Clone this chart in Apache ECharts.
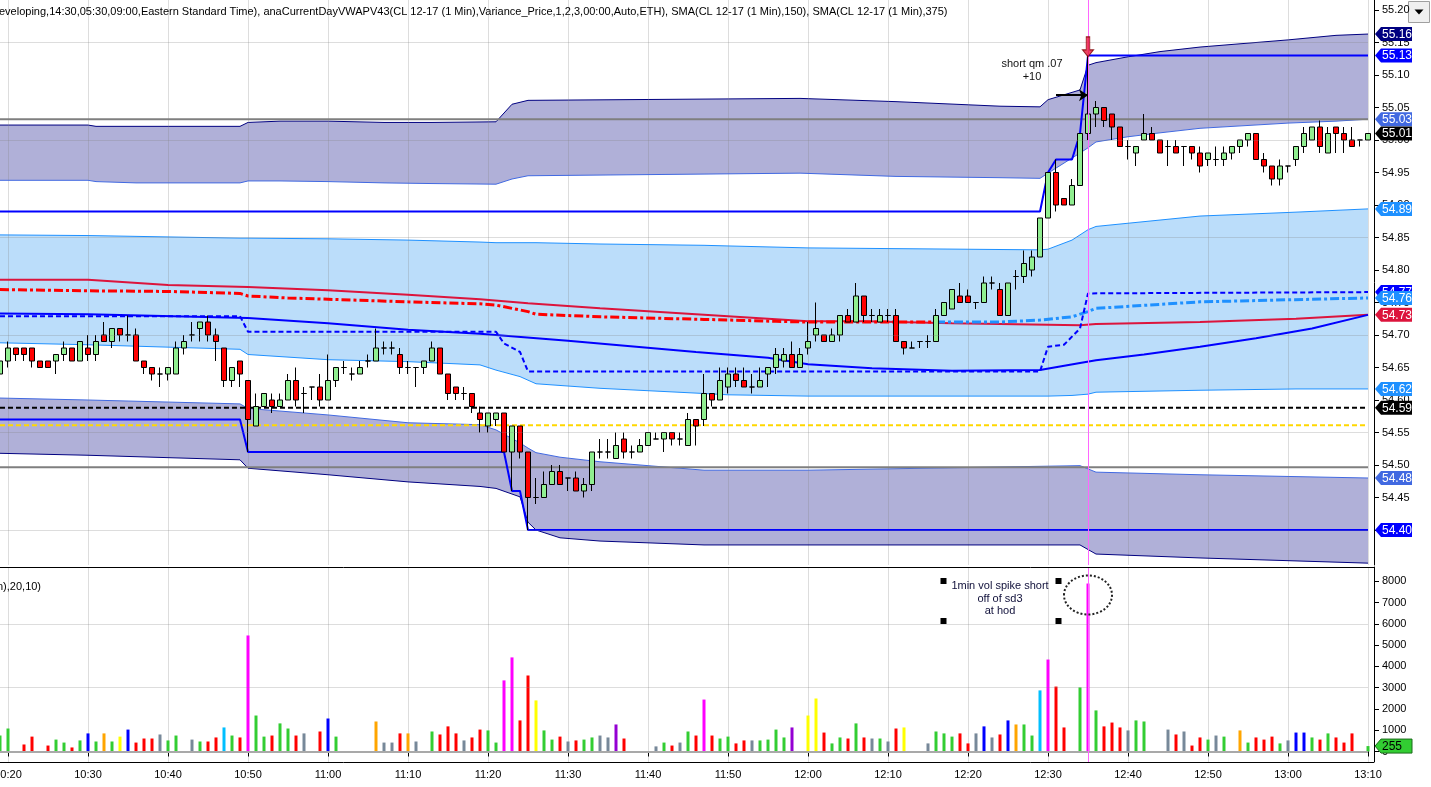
<!DOCTYPE html>
<html><head><meta charset="utf-8">
<script src="https://cdn.jsdelivr.net/npm/echarts@6/dist/echarts.min.js"></script>
<style>html,body{margin:0;padding:0;background:#fff;overflow:hidden}#c{width:1431px;height:787px}</style>
</head><body><div id="c"></div>
<script>
// ---------------- DATA ----------------
const startMinute = 10 * 60 + 19, barCount = 172;
const times = [];
for (let i = 0; i < barCount; i++) { const m = startMinute + i; times.push(Math.floor(m / 60) + ':' + String(m % 60).padStart(2, '0')); }

// [open, close, low, high]
const candles = [
[54.64,54.66,54.62,54.66],[54.66,54.68,54.65,54.69],[54.68,54.67,54.66,54.68],[54.68,54.67,54.66,54.68],[54.68,54.66,54.65,54.68],
[54.66,54.65,54.65,54.66],[54.66,54.65,54.65,54.66],[54.66,54.67,54.64,54.67],[54.67,54.68,54.66,54.69],[54.68,54.66,54.66,54.68],
[54.66,54.69,54.66,54.69],[54.68,54.67,54.66,54.70],[54.67,54.69,54.66,54.70],[54.70,54.69,54.69,54.72],[54.69,54.71,54.68,54.71],
[54.71,54.70,54.69,54.71],[54.70,54.70,54.69,54.73],[54.70,54.66,54.66,54.71],[54.66,54.65,54.64,54.66],[54.65,54.64,54.63,54.65],
[54.64,54.64,54.62,54.65],[54.64,54.65,54.63,54.65],[54.64,54.68,54.64,54.69],[54.68,54.69,54.67,54.70],[54.70,54.70,54.69,54.72],
[54.71,54.72,54.69,54.72],[54.72,54.70,54.69,54.73],[54.70,54.69,54.66,54.71],[54.68,54.63,54.62,54.68],[54.63,54.65,54.62,54.65],
[54.66,54.64,54.62,54.66],[54.63,54.57,54.52,54.63],[54.56,54.59,54.56,54.61],[54.59,54.61,54.59,54.61],[54.60,54.59,54.58,54.61],
[54.59,54.60,54.59,54.61],[54.60,54.63,54.60,54.64],[54.63,54.60,54.59,54.65],[54.61,54.61,54.58,54.62],[54.62,54.62,54.60,54.62],
[54.62,54.60,54.59,54.64],[54.60,54.63,54.60,54.67],[54.63,54.65,54.62,54.65],[54.65,54.65,54.64,54.66],[54.64,54.64,54.63,54.65],
[54.64,54.65,54.64,54.66],[54.66,54.66,54.65,54.67],[54.66,54.68,54.66,54.71],[54.68,54.68,54.67,54.69],[54.68,54.68,54.67,54.69],
[54.67,54.65,54.64,54.68],[54.65,54.65,54.64,54.66],[54.65,54.65,54.62,54.65],[54.65,54.66,54.64,54.66],[54.66,54.68,54.66,54.69],
[54.68,54.64,54.64,54.68],[54.64,54.61,54.60,54.64],[54.62,54.61,54.60,54.62],[54.61,54.61,54.60,54.62],[54.61,54.59,54.58,54.61],
[54.58,54.57,54.55,54.59],[54.56,54.58,54.55,54.58],[54.57,54.58,54.56,54.58],[54.58,54.52,54.52,54.58],[54.52,54.56,54.46,54.56],
[54.56,54.52,54.51,54.56],[54.52,54.45,54.40,54.52],[54.45,54.45,54.44,54.48],[54.45,54.47,54.45,54.49],[54.47,54.49,54.47,54.50],
[54.49,54.47,54.47,54.50],[54.48,54.48,54.46,54.48],[54.48,54.46,54.46,54.49],[54.46,54.47,54.45,54.48],[54.47,54.52,54.46,54.52],
[54.52,54.52,54.51,54.54],[54.52,54.52,54.51,54.54],[54.51,54.53,54.51,54.55],[54.54,54.52,54.51,54.55],[54.52,54.52,54.51,54.53],
[54.52,54.53,54.52,54.54],[54.53,54.55,54.53,54.55],[54.54,54.54,54.54,54.55],[54.54,54.55,54.52,54.55],[54.55,54.54,54.53,54.55],
[54.54,54.54,54.53,54.55],[54.53,54.57,54.53,54.58],[54.57,54.56,54.53,54.57],[54.57,54.61,54.56,54.64],[54.61,54.60,54.59,54.61],
[54.60,54.63,54.60,54.65],[54.62,54.64,54.61,54.65],[54.64,54.63,54.62,54.65],[54.63,54.62,54.62,54.65],[54.62,54.62,54.61,54.64],
[54.62,54.63,54.62,54.65],[54.64,54.65,54.62,54.65],[54.65,54.67,54.64,54.68],[54.66,54.67,54.65,54.68],[54.67,54.65,54.65,54.69],
[54.65,54.67,54.65,54.68],[54.68,54.69,54.67,54.72],[54.70,54.71,54.69,54.75],[54.70,54.69,54.69,54.70],[54.69,54.70,54.69,54.71],
[54.70,54.73,54.69,54.73],[54.73,54.72,54.72,54.74],[54.72,54.76,54.72,54.78],[54.76,54.73,54.72,54.76],[54.73,54.73,54.72,54.74],
[54.72,54.73,54.72,54.74],[54.73,54.73,54.72,54.74],[54.73,54.69,54.69,54.74],[54.69,54.68,54.67,54.69],[54.68,54.68,54.68,54.69],
[54.69,54.69,54.68,54.69],[54.69,54.69,54.68,54.70],[54.69,54.73,54.69,54.74],[54.73,54.75,54.73,54.75],[54.74,54.77,54.74,54.77],
[54.76,54.75,54.75,54.78],[54.76,54.75,54.75,54.77],[54.75,54.75,54.74,54.75],[54.75,54.78,54.75,54.79],[54.78,54.78,54.77,54.79],
[54.77,54.73,54.73,54.78],[54.73,54.78,54.73,54.78],[54.79,54.79,54.77,54.80],[54.79,54.81,54.78,54.83],[54.80,54.82,54.79,54.83],
[54.82,54.88,54.82,54.88],[54.88,54.95,54.88,54.95],[54.95,54.90,54.89,54.97],[54.91,54.90,54.90,54.91],[54.90,54.93,54.90,54.94],
[54.93,55.01,54.93,55.01],[55.01,55.04,55.00,55.13],[55.04,55.05,55.02,55.06],[55.05,55.03,55.02,55.05],[55.04,55.02,55.00,55.04],
[55.02,54.99,54.99,55.02],[54.99,54.99,54.97,55.00],[54.98,54.99,54.96,54.99],[55.00,55.01,55.00,55.04],[55.01,55.00,55.00,55.02],
[55.00,54.98,54.98,55.00],[54.99,54.99,54.96,55.00],[54.99,54.98,54.98,55.00],[54.99,54.99,54.96,54.99],[54.99,54.98,54.97,54.99],
[54.98,54.96,54.95,54.99],[54.97,54.98,54.96,54.98],[54.97,54.97,54.96,54.99],[54.97,54.98,54.96,54.99],[54.98,54.99,54.97,54.99],
[54.99,55.00,54.98,55.00],[55.00,55.01,54.99,55.01],[55.01,54.97,54.97,55.01],[54.97,54.96,54.95,54.98],[54.96,54.94,54.93,54.96],
[54.94,54.96,54.93,54.97],[54.96,54.96,54.95,54.96],[54.97,54.99,54.96,54.99],[54.99,55.01,54.98,55.02],[55.00,55.02,55.00,55.02],
[55.02,54.99,54.98,55.03],[54.98,55.01,54.98,55.02],[55.02,55.01,54.98,55.02],[55.01,55.00,54.98,55.02],[55.00,54.99,54.99,55.02],
[55.00,55.00,54.99,55.00],[55.00,55.01,55.00,55.01]
];

const volumes = [
750,1080,null,330,700,null,280,560,420,190,
520,850,470,850,470,700,1030,420,610,610,
800,520,750,null,560,470,470,660,1130,750,
660,5450,1690,700,750,1320,1080,750,850,null,
940,1550,700,null,null,null,null,1410,420,420,
850,850,470,null,940,800,1180,850,520,660,
1030,990,420,3340,4420,1460,3570,2400,990,560,
700,470,520,560,660,750,660,1270,610,null,
null,null,240,420,280,420,940,750,2440,750,
610,700,380,520,520,520,560,1030,660,1130,
null,1690,2490,890,380,660,610,1320,660,610,
610,470,1080,1130,null,null,380,940,850,700,
850,380,850,1180,660,800,1460,1270,1270,750,
2870,4320,3050,1130,null,3010,7890,1930,1180,1360,
1130,990,1460,1410,null,null,1030,800,940,280,
660,560,750,700,null,990,420,660,560,700,
380,520,890,890,660,560,850,660,420,850,
null,255];
// volume class per bar: g up, r down, a neutral, b/o/y/c/m/p volume-class codes
const volumeKinds = ('gg-rr-rggr'+'gbgogybrrr'+'agg-agrrcg'+'rmggrggra-'+'rbg----oaa'+
  'roa-grrrar'+'rggmmrrygg'+'rarggaapr-'+'--agragrmr'+'ggrraggggp'+
  '-yyrggrgra'+'gary--aggg'+'rrabarbogg'+'cmrr-gmgrr'+'ragg--arar'+
  'rgag-ogrrr'+'gabbgrgrrr'+'-g').split('');

// bands: [time, top, bottom]
const upperBand = [
['10:19',55.023,54.938],['10:30',55.023,54.938],['10:31',55.021,54.936],['10:36',55.021,54.934],['10:49',55.021,54.934],
['10:50',55.027,54.937],['10:54',55.029,54.937],['11:00',55.029,54.936],['11:07',55.027,54.934],['11:13',55.027,54.933],
['11:21',55.028,54.932],['11:23',55.055,54.940],['11:25',55.061,54.945],['11:59',55.064,54.949],['12:11',55.059,54.944],
['12:24',55.052,54.942],['12:29',55.051,54.941],['12:30',55.062,54.949],['12:34',55.077,54.980],['12:35',55.115,54.988],
['12:36',55.119,54.997],['12:40',55.128,55.005],['12:44',55.136,55.011],['12:49',55.143,55.018],['13:00',55.154,55.026],
['13:06',55.161,55.029],['13:10',55.163,55.032]];
const middleBand = [
['10:19',54.854,54.688],['10:30',54.853,54.685],['10:49',54.849,54.678],['10:50',54.849,54.670],['11:00',54.848,54.662],
['11:10',54.846,54.659],['11:19',54.843,54.654],['11:21',54.842,54.646],['11:24',54.842,54.636],['11:26',54.842,54.625],
['11:34',54.840,54.618],['11:47',54.838,54.610],['11:50',54.837,54.608],['12:00',54.834,54.606],['12:29',54.831,54.606],
['12:30',54.832,54.606],['12:33',54.846,54.607],['12:35',54.862,54.609],['12:36',54.867,54.612],['12:49',54.883,54.615],
['13:01',54.889,54.617],['13:10',54.894,54.617]];
const lowerBand = [
['10:19',54.603,54.518],['10:30',54.600,54.515],['10:49',54.594,54.508],['10:50',54.587,54.495],['11:00',54.577,54.485],
['11:10',54.565,54.474],['11:19',54.562,54.467],['11:21',54.554,54.464],['11:24',54.534,54.451],['11:25',54.526,54.412],
['11:26',54.519,54.400],['11:29',54.512,54.388],['11:34',54.505,54.383],['11:47',54.492,54.377],['12:00',54.492,54.377],
['12:34',54.499,54.377],['12:36',54.489,54.363],['12:49',54.485,54.357],['13:10',54.480,54.349]];

const vwapLine = [['10:19',54.733],['10:30',54.732],['10:50',54.726],['11:00',54.718],['11:10',54.708],['11:19',54.702],
['11:30',54.691],['11:46',54.674],['11:55',54.665],['12:00',54.655],['12:08',54.649],['12:18',54.645],['12:29',54.646],
['12:34',54.657],['12:36',54.661],['12:42',54.670],['12:49',54.682],['12:56',54.695],['13:03',54.710],['13:10',54.731]];
const vwapStepLine = [['10:19',54.729],['10:49',54.729],['10:50',54.705],['11:21',54.705],['11:22',54.687],['11:24',54.674],
['11:25',54.644],['12:29',54.644],['12:30',54.682],['12:32',54.685],['12:34',54.710],['12:35',54.764],['13:10',54.766]];
const sma150 = [['10:19',54.785],['10:30',54.785],['10:40',54.777],['10:50',54.774],['11:00',54.769],['11:10',54.762],
['11:19',54.755],['11:25',54.749],['11:34',54.741],['11:47',54.731],['12:00',54.721],['12:07',54.721],['12:18',54.718],
['12:34',54.715],['12:36',54.717],['12:49',54.720],['13:01',54.725],['13:10',54.731]];
const sma375Falling = [['10:19',54.770],['10:30',54.768],['10:40',54.767],['10:49',54.764],['10:50',54.760],['10:55',54.757],
['11:10',54.751],['11:19',54.748],['11:21',54.746],['11:25',54.736],['11:26',54.732],['11:34',54.728],['11:47',54.724],
['11:56',54.721],['12:00',54.720],['12:16',54.720]];
const sma375Rising = [['12:16',54.720],['12:24',54.720],['12:29',54.723],['12:33',54.728],['12:35',54.736],['12:36',54.741],
['12:49',54.751],['13:10',54.757]];

const priorHigh = 54.89, priorLow = 54.57;
const blackLevel = 54.588, yellowLevel = 54.561;
const grayLevels = [55.032, 54.4965];
const priceGridValues = [54.40, 54.55, 54.70, 54.85, 55.00, 55.15];
const priceTickLabels = [54.40,54.45,54.50,54.55,54.60,54.65,54.70,54.75,54.80,54.85,54.90,54.95,55.00,55.05,55.10,55.15,55.20];
const volumeTickLabels = [0,1000,2000,3000,4000,5000,6000,7000,8000];
const volumeGridValues = [3000, 6000];
const spikeTime = '12:35';
const shortNote = {time: '12:28', price: 55.107, text: 'short qm .07\n+10'};
const entryArrow = {from: '12:31', to: '12:35', price: 55.069};
const highMarker = {time: '12:35', price: 55.128};
const volNote = {time: '12:24', volume: 7069, text: '1min vol spike short\noff of sd3\nat hod'};
const volCircle = {time: '12:35', volume: 7350};
const titleText = 'eveloping,14:30,05:30,09:00,Eastern Standard Time), anaCurrentDayVWAPV43(CL 12-17 (1 Min),Variance_Price,1,2,3,00:00,Auto,ETH), SMA(CL 12-17 (1 Min),150), SMA(CL 12-17 (1 Min),375)';
const volTitleText = 'n),20,10)';

// ---------------- BUILD ----------------
const ix = t => times.indexOf(t);
const last = a => a[a.length - 1];
const lastIdx = barCount - 1;
const FONT = '"Liberation Sans", Arial, sans-serif';
const FS = 11;
const runHigh = [], runLow = [];
(function () { let hi = priorHigh, lo = priorLow; candles.forEach((c, i) => { hi = Math.max(hi, c[3]); lo = Math.min(lo, c[2]); runHigh.push([i, hi]); runLow.push([i, lo]); }); })();

const palette = {g:'#32CD32', r:'#FF0000', a:'#778899', b:'#0000FF', o:'#FFA500', y:'#FFFF00', c:'#00BFFF', m:'#FF00FF', p:'#9400D3'};
const isLabelTime = (i, v) => String(v).endsWith('0');

const P = {xAxisIndex: 0, yAxisIndex: 0};
const V = {xAxisIndex: 1, yAxisIndex: 1};
const common = {symbol: 'none', silent: true, animation: false, emphasis: {disabled: true}};
function lineS(data, style, z, extra) {
  return Object.assign({type: 'line', data: data.map(d => [typeof d[0] === 'string' ? ix(d[0]) : d[0], d[1]]), lineStyle: style, z: z}, P, common, extra || {});
}
function band(b, name, fill, topColor, botColor) {
  return [
    Object.assign({type: 'line', stack: name, data: b.map(r => [ix(r[0]), r[2]]), lineStyle: {color: botColor, width: 1}, z: 1}, P, common),
    Object.assign({type: 'line', stack: name, data: b.map(r => [ix(r[0]), +(r[1] - r[2]).toFixed(4)]), areaStyle: {color: fill, opacity: 1}, lineStyle: {color: topColor, width: 1}, z: 0}, P, common)
  ];
}

const priceTags = [
  {v: last(upperBand)[1], bg: '#000080', fg: '#fff'},
  {v: last(runHigh)[1], bg: '#0000FF', fg: '#fff'},
  {v: last(upperBand)[2], bg: '#4169E1', fg: '#fff'},
  {v: last(candles)[1], bg: '#000000', fg: '#fff'},
  {v: last(middleBand)[1], bg: '#1E90FF', fg: '#fff'},
  {v: last(vwapStepLine)[1], bg: '#0000FF', fg: '#fff'},
  {v: last(sma375Rising)[1], bg: '#1E90FF', fg: '#fff'},
  {v: last(sma150)[1], bg: '#DC143C', fg: '#fff'},
  {v: last(middleBand)[2], bg: '#1E90FF', fg: '#fff'},
  {v: blackLevel, bg: '#000000', fg: '#fff'},
  {v: last(lowerBand)[1], bg: '#4169E1', fg: '#fff'},
  {v: last(runLow)[1], bg: '#0000FF', fg: '#fff'}
];
const volTags = [{v: last(volumes), bg: '#32CD32', fg: '#000', stroke: '#1a6b1a', dec: 0}];

function tagRenderer(list) {
  return function (params, api) {
    const t = list[params.dataIndex];
    const p = api.coord([api.value(0), api.value(1)]);
    const x = p[0] + 7, y = p[1], h = 7, w = 37;
    return {type: 'group', children: [
      {type: 'polygon', shape: {points: [[x, y], [x + 6, y - h], [x + w, y - h], [x + w, y + h], [x + 6, y + h]]}, style: {fill: t.bg, stroke: t.stroke || null, lineWidth: 1}},
      {type: 'text', style: {text: t.dec === 0 ? String(t.v) : t.v.toFixed(2), x: x + 7, y: y + 0.5, fill: t.fg, font: '12px ' + FONT, verticalAlign: 'middle', align: 'left'}}
    ]};
  };
}

const series = [];
series.push(...band(upperBand, 'ub', '#B0B0D8', '#000080', '#4169E1'));
series.push(...band(middleBand, 'mb', '#BBDDFA', '#1E90FF', '#1E90FF'));
series.push(...band(lowerBand, 'lb', '#B0B0D8', '#4169E1', '#000080'));
series.push(Object.assign({type: 'line', data: [], z: 1, markLine: {silent: true, symbol: 'none', animation: false, label: {show: false},
  lineStyle: {color: 'rgba(128,128,128,0.27)', width: 1, type: 'solid'}, data: priceGridValues.map(v => ({yAxis: v}))}}, P, common));
grayLevels.forEach(g => series.push(lineS([[0, g], [lastIdx, g]], {color: '#7F7F7F', width: 2}, 2)));
series.push(lineS([[0, yellowLevel], [lastIdx, yellowLevel]], {color: '#FFD700', width: 2, type: [5, 3]}, 2));
series.push(lineS([[0, blackLevel], [lastIdx, blackLevel]], {color: '#000', width: 2, type: [5, 3]}, 2));
series.push(lineS(sma150, {color: '#DC143C', width: 2}, 3));
series.push(lineS(sma375Falling, {color: '#FF0000', width: 3, type: [9, 3, 3, 3]}, 3));
series.push(lineS(sma375Rising, {color: '#1E90FF', width: 3, type: [9, 3, 3, 3]}, 3));
series.push(lineS(vwapLine, {color: '#0000FF', width: 2}, 3));
series.push(lineS(vwapStepLine, {color: '#0000FF', width: 2, type: [5, 3]}, 3));
series.push(lineS(runHigh, {color: '#0000FF', width: 2}, 3));
series.push(lineS(runLow, {color: '#0000FF', width: 2}, 3));
series.push(Object.assign({type: 'line', data: [], z: 3, markLine: {silent: true, symbol: 'none', animation: false, label: {show: false},
  lineStyle: {color: '#FF66FF', width: 1, type: 'solid'}, data: [{xAxis: ix(spikeTime)}]}}, P, common));
series.push(Object.assign({type: 'candlestick', data: candles, barWidth: 5, clip: false, z: 4, silent: true, animation: false,
  itemStyle: {color: '#90EE90', color0: '#FF0000', borderColor: '#000', borderColor0: '#000', borderColorDoji: '#000', borderWidth: 1}}, P));
series.push(Object.assign({type: 'line', data: [], z: 5, markLine: {silent: true, symbol: ['none', 'arrow'], symbolSize: 9, animation: false, label: {show: false},
  lineStyle: {color: '#000', width: 2, type: 'solid'}, data: [[{coord: [ix(entryArrow.from), entryArrow.price]}, {coord: [ix(entryArrow.to), entryArrow.price]}]]}}, P, common));
series.push(Object.assign({type: 'scatter', data: [[ix(highMarker.time), highMarker.price]], z: 6, silent: true, animation: false,
  symbol: 'path://M4,0 L8,0 L8,13 L12,13 L6,20 L0,13 L4,13 Z', symbolSize: [11, 20], symbolOffset: [0, -10],
  itemStyle: {color: '#E8173C', borderColor: '#7a0000', borderWidth: 1}}, P));
series.push(Object.assign({type: 'custom', data: [[ix(shortNote.time), shortNote.price]], encode: {x: 0, y: 1}, z: 6, clip: false, silent: true, animation: false,
  renderItem: (params, api) => { const p = api.coord([api.value(0), api.value(1)]);
    return {type: 'text', style: {text: shortNote.text, x: p[0], y: p[1], align: 'center', verticalAlign: 'middle', lineHeight: 13, fill: '#111', font: FS + 'px ' + FONT}}; }}, P));
series.push(Object.assign({type: 'custom', data: priceTags.map(t => [lastIdx, t.v]), encode: {x: 0, y: 1}, z: 10, clip: false, silent: true, animation: false,
  renderItem: tagRenderer(priceTags)}, P));

series.push(Object.assign({type: 'line', data: [], z: 1, markLine: {silent: true, symbol: 'none', animation: false, label: {show: false},
  data: volumeGridValues.map(v => ({yAxis: v, lineStyle: {color: 'rgba(128,128,128,0.27)', width: 1, type: 'solid'}}))
    .concat([{yAxis: 0, lineStyle: {color: '#A9A9A9', width: 2, type: 'solid'}}])}}, V, common));
series.push(Object.assign({type: 'bar', barWidth: 3, clip: false, z: 2, silent: true, animation: false,
  data: volumes.map((v, i) => v == null ? '-' : {value: v, itemStyle: {color: palette[volumeKinds[i]]}})}, V));
series.push(Object.assign({type: 'line', data: [], z: 3, markLine: {silent: true, symbol: 'none', animation: false, label: {show: false},
  lineStyle: {color: '#FF66FF', width: 1, type: 'solid'}, data: [{xAxis: ix(spikeTime)}]}}, V, common));
series.push(Object.assign({type: 'custom', data: [[ix(volNote.time), volNote.volume]], encode: {x: 0, y: 1}, z: 6, clip: false, silent: true, animation: false,
  renderItem: (params, api) => { const p = api.coord([api.value(0), api.value(1)]);
    const sq = (dx, dy) => ({type: 'rect', shape: {x: p[0] + dx - 3, y: p[1] + dy - 3, width: 6, height: 6}, style: {fill: '#000'}});
    return {type: 'group', children: [
      {type: 'text', style: {text: volNote.text, x: p[0], y: p[1] - 2.5, align: 'center', verticalAlign: 'middle', lineHeight: 12.5, fill: '#10103a', font: FS + 'px ' + FONT}},
      sq(-56.5, -20), sq(58.5, -20), sq(-56.5, 20), sq(58.5, 20)]}; }}, V));
series.push(Object.assign({type: 'custom', data: [[ix(volCircle.time), volCircle.volume]], encode: {x: 0, y: 1}, z: 6, clip: false, silent: true, animation: false,
  renderItem: (params, api) => { const p = api.coord([api.value(0), api.value(1)]);
    return {type: 'ellipse', shape: {cx: p[0], cy: p[1], rx: 24, ry: 19.5}, style: {fill: null, stroke: '#222', lineWidth: 2, lineDash: [2, 2]}}; }}, V));
series.push(Object.assign({type: 'custom', data: volTags.map(t => [lastIdx, t.v]), encode: {x: 0, y: 1}, z: 10, clip: false, silent: true, animation: false,
  renderItem: tagRenderer(volTags)}, V));

const splitX = {show: true, interval: isLabelTime, lineStyle: {color: 'rgba(128,128,128,0.27)', width: 1}};
const option = {
  animation: false,
  backgroundColor: '#fff',
  grid: [
    {left: 0, top: 0, width: 1368, height: 565, outerBoundsMode: 'none', containLabel: false},
    {left: 0, top: 567, width: 1368, height: 195, outerBoundsMode: 'none', containLabel: false}
  ],
  xAxis: [
    {type: 'category', gridIndex: 0, data: times, boundaryGap: false, z: 1, axisLine: {show: false}, axisTick: {show: false}, axisLabel: {show: false}, splitLine: splitX},
    {type: 'category', gridIndex: 1, data: times, boundaryGap: false, z: 1,
      axisLine: {show: true, lineStyle: {color: '#000', width: 1}},
      axisTick: {show: true, interval: isLabelTime, length: 5, inside: false, lineStyle: {color: '#000'}},
      axisLabel: {show: true, interval: isLabelTime, color: '#000', fontSize: FS, fontFamily: FONT, margin: 7},
      splitLine: splitX}
  ],
  yAxis: [
    {type: 'value', gridIndex: 0, position: 'right', offset: 6, min: 55.2 - 555 / 650, max: 55.2 + 10 / 650, z: 1,
      axisLine: {show: true, lineStyle: {color: '#000', width: 1}},
      axisTick: {show: true, inside: false, length: 5, customValues: priceTickLabels, lineStyle: {color: '#000'}},
      axisLabel: {show: true, customValues: priceTickLabels, color: '#000', fontSize: FS, fontFamily: FONT, margin: 8, formatter: v => v.toFixed(2)},
      splitLine: {show: false}},
    {type: 'value', gridIndex: 1, position: 'right', offset: 6, min: -493, max: 8666, z: 1,
      axisLine: {show: true, lineStyle: {color: '#000', width: 1}},
      axisTick: {show: true, inside: false, length: 5, customValues: volumeTickLabels, lineStyle: {color: '#000'}},
      axisLabel: {show: true, customValues: volumeTickLabels, color: '#000', fontSize: FS, fontFamily: FONT, margin: 8, formatter: v => String(Math.round(v))},
      splitLine: {show: false}}
  ],
  graphic: [
    {type: 'text', left: -1, top: 6, z: 20, silent: true, style: {text: titleText, fill: '#000', font: FS + 'px ' + FONT}},
    {type: 'text', left: -3, top: 581, z: 20, silent: true, style: {text: volTitleText, fill: '#000', font: FS + 'px ' + FONT}},
    {type: 'line', z: 20, silent: true, shape: {x1: 0, y1: 567.5, x2: 1374, y2: 567.5}, style: {stroke: '#000', lineWidth: 1}},
    {type: 'line', z: 20, silent: true, shape: {x1: 0, y1: 762.5, x2: 1374, y2: 762.5}, style: {stroke: '#000', lineWidth: 1}},
    {type: 'group', right: 1, top: 1, z: 30, silent: true, children: [
      {type: 'rect', shape: {x: 0, y: 0, width: 21, height: 21}, style: {fill: '#F0F0F0', stroke: '#A0A0A0', lineWidth: 1}},
      {type: 'polygon', shape: {points: [[6, 8], [15, 8], [10.5, 13]]}, style: {fill: '#000'}}
    ]}
  ],
  series: series
};
const chart = echarts.init(document.getElementById('c'), null, {renderer: 'canvas'});
chart.setOption(option);
</script></body></html>
